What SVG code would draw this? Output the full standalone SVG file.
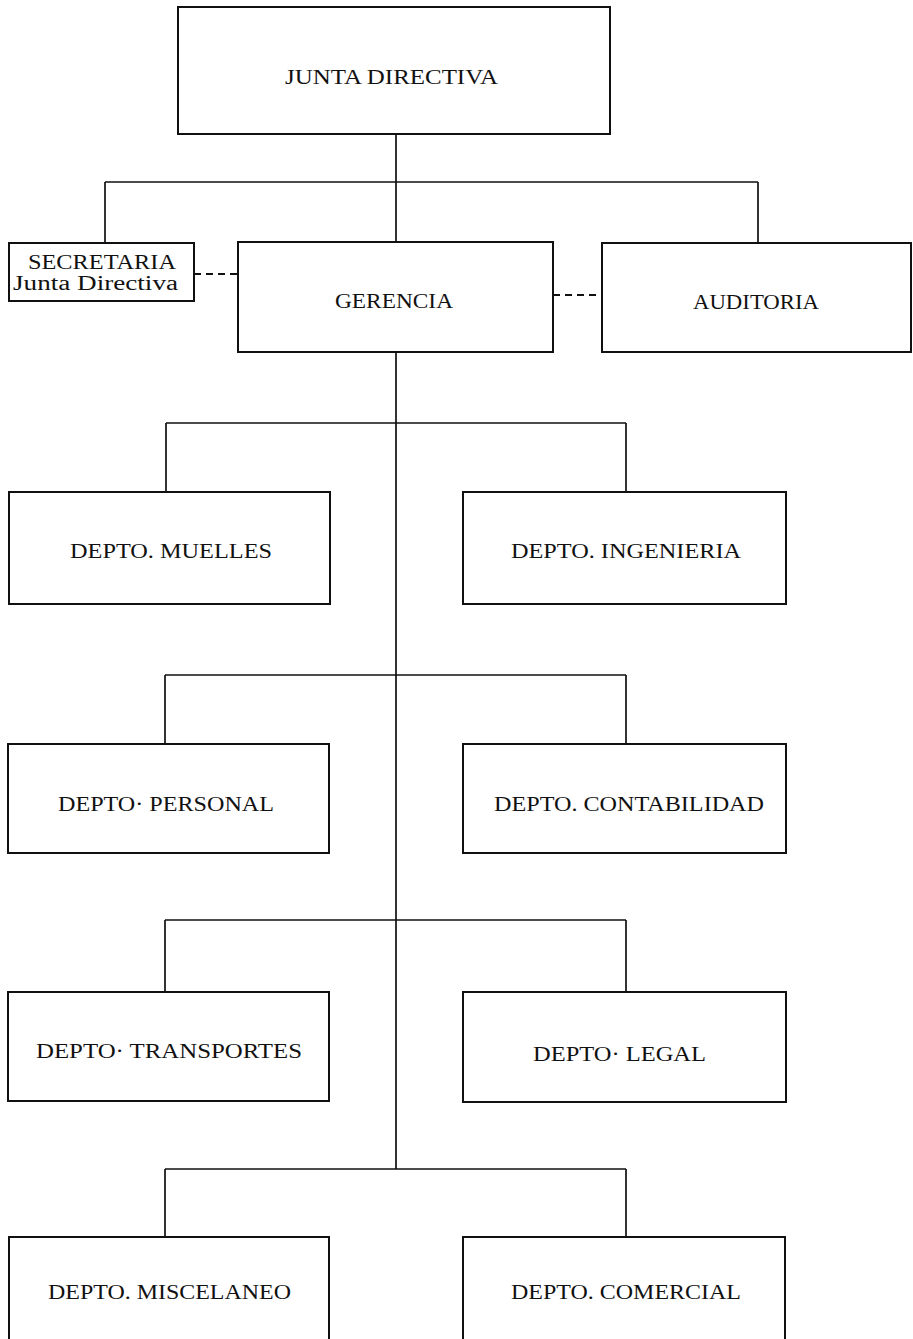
<svg xmlns="http://www.w3.org/2000/svg" width="913" height="1339" viewBox="0 0 913 1339">
<style>
.box{fill:#fff;stroke:#111;stroke-width:2}
.ln{fill:none;stroke:#111;stroke-width:1.7}
.dash{fill:none;stroke:#111;stroke-width:1.8;stroke-dasharray:7 5}
.t{font-family:"Liberation Serif","Times New Roman",serif;font-size:20px;fill:#111}
.big{font-size:22px}
</style>
<rect width="913" height="1339" fill="#fff"/>
<g id="connectors">
<path class="ln" d="M396 134V241M105 182H758M105 182V243M758 182V243M396 352V1169"/>
<path class="ln" d="M166 423H626M166 423V492M626 423V492"/>
<path class="ln" d="M165 675H626M165 675V744M626 675V744"/>
<path class="ln" d="M165 920H626M165 920V992M626 920V992"/>
<path class="ln" d="M165 1169H626M165 1169V1237M626 1169V1237"/>
<path class="dash" d="M194 274H238M553 295H602"/>
</g>
<g id="junta"><rect class="box" x="178" y="7" width="432" height="127"/><text class="t big" x="285" y="84" textLength="213" lengthAdjust="spacingAndGlyphs">JUNTA DIRECTIVA</text></g>
<g id="secretaria"><rect class="box" x="9" y="243" width="185" height="58"/><text class="t" x="28" y="269" textLength="148" lengthAdjust="spacingAndGlyphs">SECRETARIA</text><text class="t" x="13" y="290" textLength="165" lengthAdjust="spacingAndGlyphs">Junta Directiva</text></g>
<g id="gerencia"><rect class="box" x="238" y="242" width="315" height="110"/><text class="t" x="335" y="308" textLength="118" lengthAdjust="spacingAndGlyphs">GERENCIA</text></g>
<g id="auditoria"><rect class="box" x="602" y="243" width="309" height="109"/><text class="t" x="693" y="309" textLength="126" lengthAdjust="spacingAndGlyphs">AUDITORIA</text></g>
<g id="muelles"><rect class="box" x="9" y="492" width="321" height="112"/><text class="t" x="70" y="558" textLength="202" lengthAdjust="spacingAndGlyphs">DEPTO. MUELLES</text></g>
<g id="ingenieria"><rect class="box" x="463" y="492" width="323" height="112"/><text class="t" x="511" y="558" textLength="230" lengthAdjust="spacingAndGlyphs">DEPTO. INGENIERIA</text></g>
<g id="personal"><rect class="box" x="8" y="744" width="321" height="109"/><text class="t" x="58" y="811" textLength="216" lengthAdjust="spacingAndGlyphs">DEPTO· PERSONAL</text></g>
<g id="contabilidad"><rect class="box" x="463" y="744" width="323" height="109"/><text class="t" x="494" y="811" textLength="270" lengthAdjust="spacingAndGlyphs">DEPTO. CONTABILIDAD</text></g>
<g id="transportes"><rect class="box" x="8" y="992" width="321" height="109"/><text class="t" x="36" y="1058" textLength="266" lengthAdjust="spacingAndGlyphs">DEPTO· TRANSPORTES</text></g>
<g id="legal"><rect class="box" x="463" y="992" width="323" height="110"/><text class="t" x="533" y="1061" textLength="173" lengthAdjust="spacingAndGlyphs">DEPTO· LEGAL</text></g>
<g id="miscelaneo"><rect class="box" x="9" y="1237" width="320" height="120"/><text class="t" x="48" y="1299" textLength="243" lengthAdjust="spacingAndGlyphs">DEPTO. MISCELANEO</text></g>
<g id="comercial"><rect class="box" x="463" y="1237" width="322" height="120"/><text class="t" x="511" y="1299" textLength="230" lengthAdjust="spacingAndGlyphs">DEPTO. COMERCIAL</text></g>
</svg>
